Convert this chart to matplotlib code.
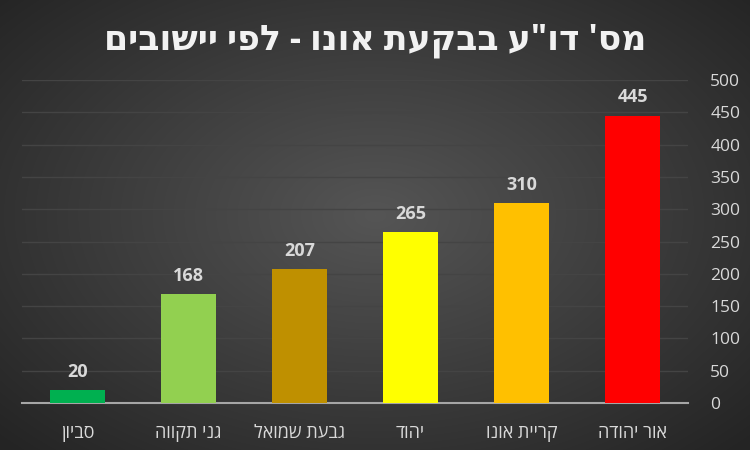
import numpy as np
import matplotlib.pyplot as plt

# Data
towns = ['סביון', 'גני תקווה', 'גבעת שמואל', 'יהוד', 'קריית אונו', 'אור יהודה']
counts = [20, 168, 207, 265, 310, 445]
bar_colors = ['#00B050', '#92D050', '#BF9000', '#FFFF00', '#FFC000', '#FF0000']
title = "מס' דו\"ע בבקעת אונו - לפי יישובים"


def rtl(s):
    # matplotlib has no bidi support, so flip Hebrew to visual order
    return s[::-1]


fonts = ['Open Sans', 'DejaVu Sans']
plt.rcParams['font.family'] = fonts

fig = plt.figure(figsize=(7.5, 4.5), dpi=100)

# radial gradient background
bg = fig.add_axes([0, 0, 1, 1], zorder=0)
yy, xx = np.mgrid[0:450, 0:750]
r = np.sqrt(((xx - 375) / 520.0) ** 2 + ((yy - 215) / 330.0) ** 2)
r = np.clip(r, 0, 1)
center, edge = np.array([0x55, 0x55, 0x55]), np.array([0x24, 0x24, 0x24])
img = (center[None, None, :] * (1 - r[..., None]) + edge[None, None, :] * r[..., None]) / 255.0
bg.imshow(img, aspect='auto', extent=[0, 1, 0, 1])
bg.axis('off')

ax = fig.add_axes([22 / 750, 1 - 403 / 450, 666 / 750, 323 / 450], zorder=1)
ax.patch.set_alpha(0)

x = np.arange(len(towns))
ax.bar(x, counts, width=0.5, color=bar_colors, zorder=3)
for xi, v in zip(x, counts):
    ax.text(xi, v + 14, str(v), ha='center', va='bottom', color='#D9D9D9',
            fontsize=13, fontweight='bold', zorder=4)

ax.set_xlim(-0.5, len(towns) - 0.5)
ax.set_ylim(0, 500)
ax.set_yticks(range(0, 501, 50))
ax.yaxis.tick_right()
ax.tick_params(axis='y', length=0, pad=16, labelcolor='#D9D9D9', labelsize=12.5)
ax.set_xticks(x)
ax.set_xticklabels([rtl(t) for t in towns])
ax.tick_params(axis='x', length=0, pad=15, labelcolor='#D9D9D9', labelsize=13)

ax.grid(axis='y', color='#444444', linewidth=1, zorder=0)
for s in ['top', 'right', 'left']:
    ax.spines[s].set_visible(False)
ax.spines['bottom'].set_color('#A6A6A6')
ax.spines['bottom'].set_linewidth(1.5)

fig.text(0.5, 1 - 40 / 450, rtl(title), ha='center', va='center', color='#F2F2F2',
         fontsize=25, fontweight='bold')

fig.savefig('out.png', dpi=100)
